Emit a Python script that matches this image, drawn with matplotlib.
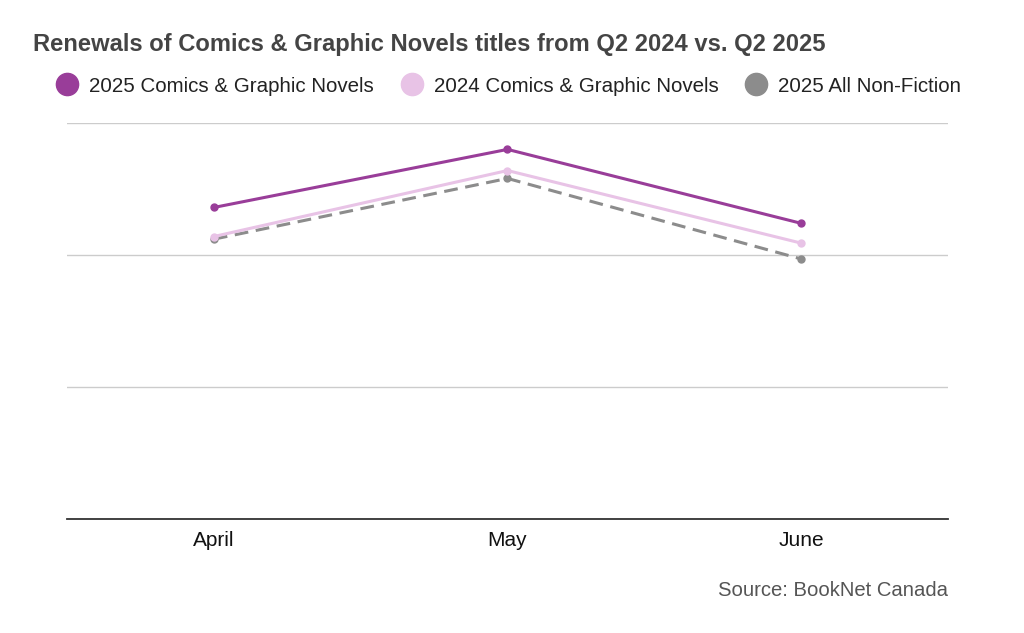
import matplotlib.pyplot as plt
from matplotlib.lines import Line2D

plt.rcParams['font.family'] = ['Liberation Sans', 'DejaVu Sans']

months = ["April", "May", "June"]
# values, in gridline units (no y labels shown)
comics_2025 = [2.36, 2.80, 2.24]
comics_2024 = [2.14, 2.64, 2.09]
nonfiction_2025 = [2.12, 2.58, 1.97]

purple = "#993d99"
pink = "#e8c3e6"
grey = "#8c8c8c"

fig = plt.figure(figsize=(10.24, 6.33), dpi=100)
ax = fig.add_axes([67 / 1024, 1 - 519 / 633, (948 - 67) / 1024, (519 - 123) / 633])

x = range(len(months))
ax.plot(x, nonfiction_2025, color=grey, lw=2.2, ls=(0, (4.5, 2.5)), marker='o', ms=5, zorder=3)
ax.plot(x, comics_2024, color=pink, lw=2.2, marker='o', ms=5, zorder=4)
ax.plot(x, comics_2025, color=purple, lw=2.2, marker='o', ms=5, zorder=5)

ax.set_xlim(-0.5, 2.5)
ax.set_ylim(0, 3)
ax.set_yticks([0, 1, 2, 3])
ax.set_yticklabels([])
ax.yaxis.grid(True, color="#cccccc", lw=1)
ax.set_axisbelow(True)
ax.tick_params(axis='y', length=0)
ax.tick_params(axis='x', length=0, labelsize=15, pad=9, labelcolor="#111111")
ax.set_xticks(list(x))
ax.set_xticklabels(months)
for s in ['top', 'right', 'left']:
    ax.spines[s].set_visible(False)
ax.spines['bottom'].set_color("#333333")
ax.spines['bottom'].set_linewidth(1.3)
ax.spines['bottom'].set_zorder(6)

fig.text(33 / 1024, 1 - 44 / 633, "Renewals of Comics & Graphic Novels titles from Q2 2024 vs. Q2 2025",
         fontsize=17.1, fontweight='bold', color="#444444", va='center', ha='left')

handles = [Line2D([], [], ls='none', marker='o', ms=16, color=c) for c in (purple, pink, grey)]
labels = ["2025 Comics & Graphic Novels", "2024 Comics & Graphic Novels", "2025 All Non-Fiction"]
fig.legend(handles, labels, loc='center left', bbox_to_anchor=(58 / 1024, 1 - 86 / 633), ncol=3,
           frameon=False, fontsize=14.8, handlelength=0.9, handletextpad=0.62, columnspacing=1.38,
           labelcolor="#222222", borderaxespad=0, borderpad=0)

fig.text(948 / 1024, 1 - 590 / 633, "Source: BookNet Canada", fontsize=14.6, color="#555555",
         ha='right', va='center')

fig.savefig("out.png", dpi=100)
